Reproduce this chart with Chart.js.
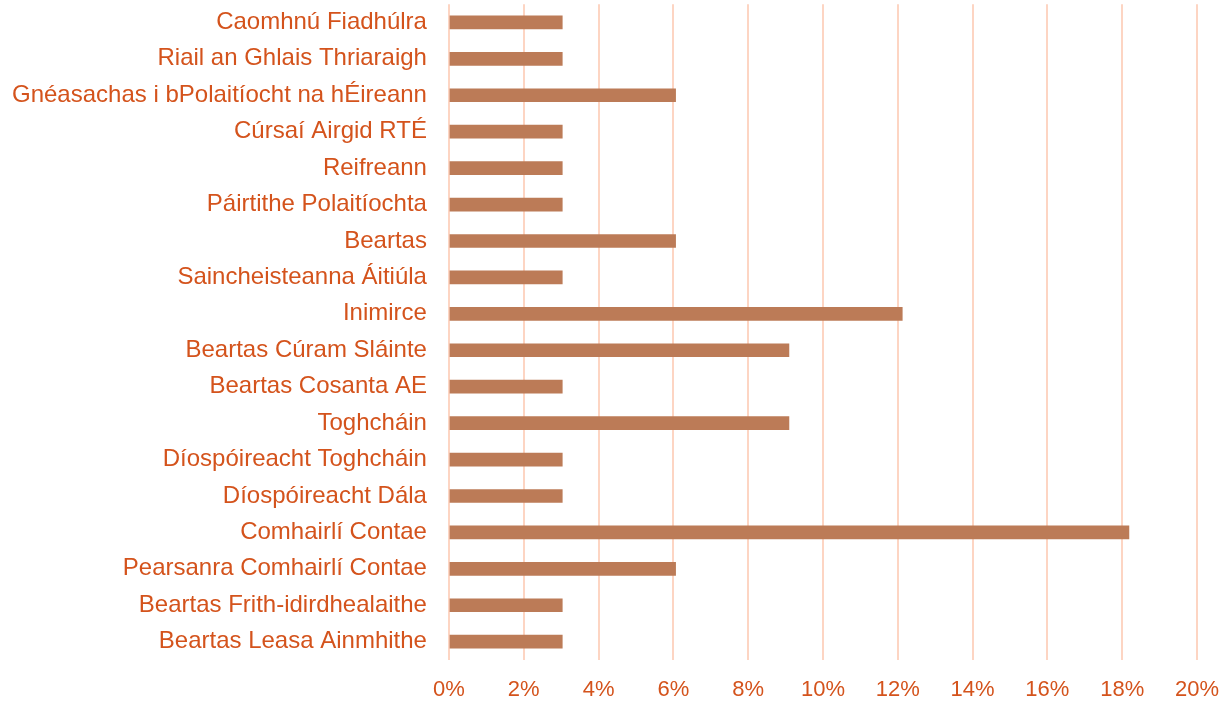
<!DOCTYPE html>
<html>
<head>
<meta charset="utf-8">
<script src="https://cdn.jsdelivr.net/npm/chart.js@4"></script>
<style>
  html, body { margin: 0; padding: 0; background: #fff; }
  #wrap { width: 1225px; height: 701px; }
</style>
</head>
<body>
<div id="wrap"><canvas id="topics"></canvas></div>
<script>
const topics = [
  "Caomhnú Fiadhúlra",
  "Riail an Ghlais Thriaraigh",
  "Gnéasachas i bPolaitíocht na hÉireann",
  "Cúrsaí Airgid RTÉ",
  "Reifreann",
  "Páirtithe Polaitíochta",
  "Beartas",
  "Saincheisteanna Áitiúla",
  "Inimirce",
  "Beartas Cúram Sláinte",
  "Beartas Cosanta AE",
  "Toghcháin",
  "Díospóireacht Toghcháin",
  "Díospóireacht Dála",
  "Comhairlí Contae",
  "Pearsanra Comhairlí Contae",
  "Beartas Frith-idirdhealaithe",
  "Beartas Leasa Ainmhithe"
];
const shares = [3.03, 3.03, 6.06, 3.03, 3.03, 3.03, 6.06, 3.03, 12.12, 9.09, 3.03, 9.09, 3.03, 3.03, 18.18, 6.06, 3.03, 3.03];
const xTicks = [0, 2, 4, 6, 8, 10, 12, 14, 16, 18, 20];

const textColor = '#D4531C';
const font = "'Liberation Sans', Arial, sans-serif";

new Chart(document.getElementById('topics'), {
  type: 'bar',
  data: {
    labels: topics,
    datasets: [{
      data: shares,
      backgroundColor: '#BC7B57',
      borderWidth: 0,
      barThickness: 13
    }]
  },
  options: {
    indexAxis: 'y',
    responsive: true,
    maintainAspectRatio: false,
    animation: false,
    layout: { padding: { top: 4, right: 28, left: 12, bottom: 0 } },
    plugins: { legend: { display: false }, tooltip: { enabled: false } },
    scales: {
      x: {
        min: 0,
        max: 20,
        afterBuildTicks: axis => { axis.ticks = xTicks.map(v => ({ value: v })); },
        ticks: {
          color: textColor,
          font: { family: font, size: 22, lineHeight: 1.05 },
          padding: 0,
          callback: v => v + '%'
        },
        // spacing below the plot comes from an invisible tick mark
        grid: { color: '#FDD5C3', lineWidth: 2, drawTicks: true, tickLength: 18, tickColor: 'rgba(0,0,0,0)' },
        border: { display: false }
      },
      y: {
        ticks: {
          color: textColor,
          font: { family: font, size: 24, lineHeight: 0.35 },
          padding: 0,
          autoSkip: false
        },
        grid: { display: true, drawOnChartArea: false, drawTicks: true, tickLength: 22, tickColor: 'rgba(0,0,0,0)' },
        border: { display: false }
      }
    }
  }
});
</script>
</body>
</html>
